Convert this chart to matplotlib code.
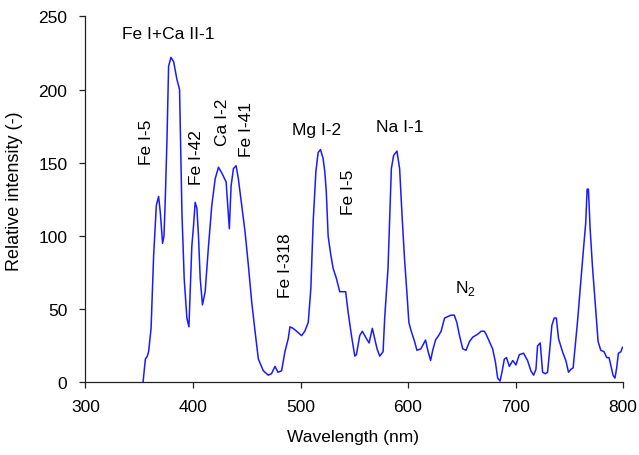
import numpy as np
import matplotlib
matplotlib.use("Agg")
import matplotlib.pyplot as plt

plt.rcParams["font.family"] = ["Liberation Sans", "DejaVu Sans"]
plt.rcParams["mathtext.fontset"] = "custom"
plt.rcParams["mathtext.rm"] = "Liberation Sans"
plt.rcParams["font.size"] = 12.5

# emission spectrum (nm, relative intensity)
wavelength = [
    353.5, 355.7, 357.5, 358.7, 361.0, 363.4, 365.9, 368.0, 369.6, 371.7,
    373.0, 374.2, 375.8, 377.3, 379.5, 382.0, 385.0, 387.5, 389.7, 391.8,
    394.3, 396.2, 397.4, 398.9, 400.5, 402.0, 403.6, 405.1, 406.7, 408.8,
    411.3, 414.4, 417.5, 420.6, 423.7, 426.8, 430.8, 432.3, 433.8, 435.4,
    437.6, 440.1, 442.2, 445.3, 448.4, 451.5, 454.6, 457.7, 460.8, 465.4,
    470.0, 473.0, 476.3, 479.0, 482.4, 485.5, 488.6, 490.2, 493.0, 496.4,
    501.0, 504.0, 507.2, 509.6, 511.8, 514.3, 516.4, 518.6, 521.0, 522.6,
    524.0, 525.7, 528.0, 530.3, 533.4, 536.5, 542.0, 544.3, 547.4, 550.5,
    552.0, 555.1, 557.5, 561.3, 563.8, 566.8, 569.0, 571.2, 573.7, 576.8,
    578.3, 581.4, 583.0, 584.5, 586.6, 589.7, 592.2, 594.6, 596.8, 598.9,
    600.8, 603.0, 606.1, 608.3, 612.0, 616.3, 618.4, 621.0, 623.0, 625.6,
    628.4, 630.8, 634.0, 637.0, 640.1, 643.0, 645.4, 647.9, 650.9, 654.0,
    657.2, 660.3, 664.9, 668.0, 671.0, 672.6, 675.7, 678.7, 681.3, 683.4,
    685.6, 687.4, 689.6, 691.6, 694.3, 697.4, 700.4, 703.5, 707.5, 711.2,
    714.3, 716.8, 719.0, 720.5, 723.0, 725.2, 727.7, 729.8, 731.9, 733.8,
    736.0, 738.0, 740.0, 743.7, 746.8, 749.3, 751.5, 753.6, 755.5, 757.6,
    760.7, 763.2, 765.3, 766.6, 767.8, 769.4, 771.5, 774.6, 776.8, 779.3,
    782.4, 784.8, 787.0, 788.5, 790.7, 792.5, 794.1, 795.7, 798.0, 799.5,
]
intensity = [
    0, 16, 18, 21, 37, 87, 121, 127, 116, 95,
    100, 125, 166, 216, 222, 219, 207, 200, 116, 71,
    44, 38, 62, 93, 107, 123, 119, 100, 71, 53,
    62, 93, 121, 139, 147, 143, 137, 121, 105, 134,
    146, 148, 139, 121, 103, 80, 55, 35, 16, 8,
    5, 6, 11, 7, 8, 21, 30, 38, 37, 35,
    32, 35, 41, 64, 110, 144, 157, 159, 153, 144,
    130, 100, 88, 78, 71, 62, 62, 48, 32, 18,
    19, 32, 35, 30, 27, 37, 30, 23, 18, 21,
    44, 78, 112, 146, 155, 158, 146, 112, 84, 62,
    41, 35, 28, 22, 23, 29, 22, 15, 22, 29,
    32, 35, 44, 45, 46, 46, 41, 32, 23, 22,
    28, 31, 33, 35, 35, 33, 28, 23, 14, 3,
    1, 7, 16, 17, 11, 15, 12, 19, 20, 15,
    8, 5, 9, 25, 27, 7, 6, 7, 23, 39,
    44, 44, 30, 21, 15, 7, 9, 10, 25, 41,
    69, 91, 109, 132, 132, 105, 80, 50, 28, 22,
    21, 17, 17, 12, 5, 3, 10, 20, 21, 24,
]

# line identifications
line_names = ["Fe I+Ca II-1", "Fe I-5", "Fe I-42", "Ca I-2", "Fe I-41",
              "Fe I-318", "Mg I-2", "Fe I-5", "Na I-1", r"N$_{\mathregular{2}}$"]
line_x = [376.7, 356.3, 403.7, 427.3, 450.0, 485.6, 515.3, 544.9, 592.6, 653.0]
line_y = [238.6, 165.0, 154.0, 178.6, 173.5, 80.4, 173.0, 130.5, 174.8, 65.0]
line_rot = [0, 90, 90, 90, 90, 90, 0, 90, 0, 0]

fig = plt.figure(figsize=(6.39, 4.56), dpi=100)
ax = fig.add_axes([0.1338, 0.159, 0.975 - 0.1338, 0.962 - 0.159])

ax.plot(wavelength, intensity, color="#1a1aff", lw=1.1)

for name, x, y, r in zip(line_names, line_x, line_y, line_rot):
    ax.text(x, y, name, rotation=r, ha="center", va="center")

ax.set_xlim(300, 800)
ax.set_ylim(0, 250)
ax.set_xticks(np.arange(300, 801, 100))
ax.set_yticks(np.arange(0, 251, 50))

for s in ["top", "right"]:
    ax.spines[s].set_visible(False)
for s in ["left", "bottom"]:
    ax.spines[s].set_color("#222222")
    ax.spines[s].set_linewidth(0.9)
ax.tick_params(direction="out", length=4, width=0.9, color="#222222")
ax.tick_params(axis="x", pad=8)
ax.tick_params(axis="y", pad=9)

ax.set_xlabel("Wavelength (nm)")
ax.set_ylabel("Relative intensity (-)", fontsize=13)
ax.xaxis.set_label_coords(0.497, -0.128)
ax.yaxis.set_label_coords(-0.116, 0.525)

fig.savefig("out.png", dpi=100)
